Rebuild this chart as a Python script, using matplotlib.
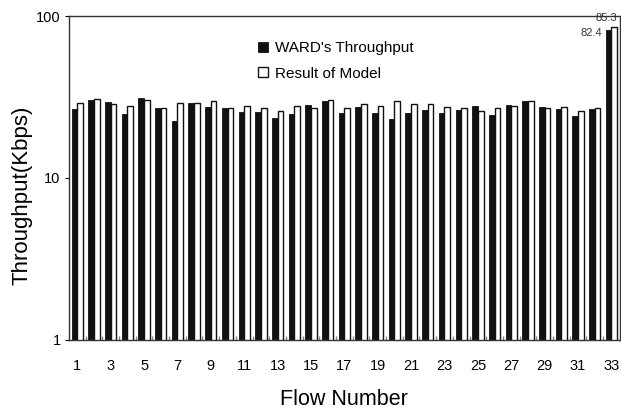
import matplotlib.pyplot as plt
import numpy as np

flows = list(range(1, 34))
ward_throughput = [26.5, 30.3, 29.6, 24.9, 31.2, 26.9, 22.5, 29.2, 27.5, 26.9,
                   25.7, 25.7, 23.4, 24.7, 28.2, 30.0, 25.1, 27.3, 25.3, 23.1,
                   25.1, 26.4, 25.3, 26.3, 27.8, 24.5, 28.2, 29.9, 27.5, 26.5,
                   24.1, 26.7, 82.4]
model_result = [29.2, 30.9, 28.5, 27.8, 30.2, 27.0, 28.9, 29.0, 30.0, 26.9,
                27.8, 26.9, 26.0, 27.8, 26.9, 30.2, 26.9, 28.7, 27.7, 30.0,
                28.7, 28.7, 27.5, 26.9, 26.0, 26.9, 27.8, 30.0, 26.9, 27.5,
                26.0, 26.9, 85.3]
tick_flows = list(range(1, 34, 2))

plt.rcParams["font.family"] = ["Liberation Sans", "DejaVu Sans"]

fig = plt.figure(figsize=(6.21, 4.11), dpi=100)
ax = fig.add_axes([0.111, 0.173, 0.887, 0.788])

x = np.array(flows)
w = 0.34
ax.bar(x - w / 2, ward_throughput, w, color="#111111", edgecolor="#111111",
       linewidth=0.6, label="WARD's Throughput")
ax.bar(x + w / 2, model_result, w, color="white", edgecolor="#111111",
       linewidth=1.0, label="Result of Model")

ax.set_yscale("log")
ax.set_ylim(1, 100)
ax.set_xlim(0.5, 33.5)
ax.set_yticks([1, 10, 100])
ax.set_yticklabels(["1", "10", "100"])
ax.yaxis.set_minor_locator(plt.NullLocator())
ax.tick_params(axis="y", direction="out", length=3, labelsize=10.5, pad=3)

ax.set_xticks(tick_flows)
ax.set_xticklabels([str(f) for f in tick_flows])
ax.tick_params(axis="x", length=0, labelsize=10.5, pad=14)
# small separators between groups
ax.set_xticks(np.arange(1.5, 33.5, 1), minor=True)
ax.tick_params(axis="x", which="minor", direction="in", length=3,
               color="#888888", width=1)

for s in ax.spines.values():
    s.set_linewidth(1.0)
    s.set_color("#333333")

ax.set_xlabel("Flow Number", fontsize=15.5, labelpad=11)
ax.set_ylabel("Throughput(Kbps)", fontsize=16)
ax.yaxis.set_label_coords(-0.067, 0.447)

ax.text(x[-1] - w / 2 - 0.4, ward_throughput[-1] * 0.95, f"{ward_throughput[-1]}",
        ha="right", va="center", fontsize=8, color="#333333")
ax.text(x[-1] + w / 2 - 0.45, model_result[-1] * 1.14, f"{model_result[-1]}",
        ha="center", va="center", fontsize=8, color="#333333", clip_on=False)

ax.legend(loc="upper left", bbox_to_anchor=(0.318, 0.965), frameon=False,
          fontsize=11, handlelength=0.65, handleheight=0.65, handletextpad=0.5,
          labelspacing=0.75)

fig.savefig("out.png", dpi=100)
